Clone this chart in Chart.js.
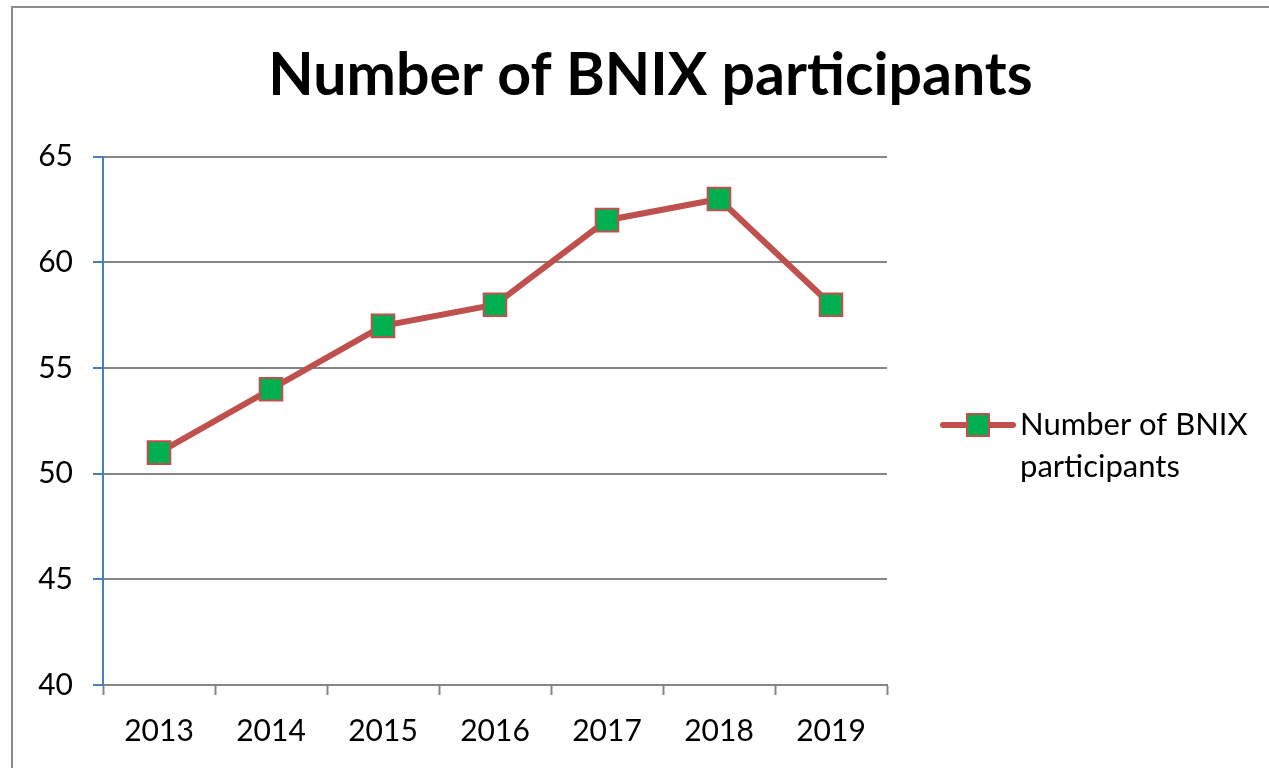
<!DOCTYPE html>
<html>
<head>
<meta charset="utf-8">
<script src="https://cdn.jsdelivr.net/npm/chart.js@4/dist/chart.umd.min.js"></script>
<style>
  html, body { margin: 0; padding: 0; background: #fff; overflow: hidden; }
  #wrap { width: 1269px; height: 768px; }
</style>
</head>
<body>
<div id="wrap"><canvas id="myChart" width="1269" height="768"></canvas></div>
<script>
var years = ["2013", "2014", "2015", "2016", "2017", "2018", "2019"];
var participants = [51, 54, 57, 58, 62, 63, 58];
var seriesName = "Number of BNIX participants";
var legendLines = ["Number of BNIX", "participants"];
var yMin = 40;
var yMax = 65;
var yStep = 5;

var lineRed = "#C0504D";
var markerGreen = "#00B050";
var gridGray = "#868686";
var axisBlue = "#4A7EBB";
var fontName = "Lato, 'Open Sans', sans-serif";

// frame round the whole chart, cut off at the right and bottom like the picture
var framePlugin = {
  id: "frame",
  beforeDraw: function (chart) {
    var c = chart.ctx;
    c.save();
    c.fillStyle = "#fff";
    c.fillRect(0, 0, chart.width, chart.height);
    c.strokeStyle = "#8c8c8c";
    c.lineWidth = 2;
    c.strokeRect(12, 7, 1300, 800);
    c.restore();
  }
};

// legend with line through the marker, text on two lines
var sideLegend = {
  id: "sideLegend",
  afterDraw: function (chart) {
    var c = chart.ctx;
    var y = 425;
    c.save();
    c.strokeStyle = lineRed;
    c.lineWidth = 6;
    c.lineCap = "round";
    c.beginPath();
    c.moveTo(943, y);
    c.lineTo(1013, y);
    c.stroke();
    c.fillStyle = markerGreen;
    c.lineWidth = 2;
    c.fillRect(967, y - 11, 22, 22);
    c.strokeRect(967, y - 11, 22, 22);
    c.fillStyle = "#000";
    c.font = "31px " + fontName;
    c.textBaseline = "middle";
    c.textAlign = "left";
    legendLines.forEach(function (t, i) {
      c.fillText(t, 1020, y + i * 42);
    });
    c.restore();
  }
};

var ctx = document.getElementById("myChart");
var myChart = new Chart(ctx, {
  type: "line",
  data: {
    labels: years,
    datasets: [
      {
        label: seriesName,
        data: participants,
        borderColor: lineRed,
        borderWidth: 6,
        tension: 0,
        pointStyle: "rect",
        pointRadius: 16,
        pointHoverRadius: 16,
        pointBackgroundColor: markerGreen,
        pointBorderColor: lineRed,
        pointBorderWidth: 2,
      },
    ],
  },
  options: {
    responsive: false,
    animation: false,
    layout: { padding: { left: 32, right: 0, top: 0, bottom: 0 } },
    plugins: {
      legend: { display: false },
      tooltip: { enabled: false },
      title: {
        display: true,
        text: seriesName,
        color: "#000",
        font: { family: fontName, size: 59, weight: "bold", lineHeight: 1.2 },
        padding: { top: 41, bottom: 45 },
      },
    },
    scales: {
      x: {
        offset: true,
        grid: {
          offset: true,
          drawOnChartArea: false,
          drawTicks: true,
          tickLength: 10,
          tickColor: gridGray,
          tickWidth: 2,
        },
        border: { display: true, color: gridGray, width: 2 },
        ticks: { color: "#000", padding: 18, font: { family: fontName, size: 30 } },
        afterFit: function (scale) { scale.height = 83; },
      },
      y: {
        min: yMin,
        max: yMax,
        ticks: {
          stepSize: yStep,
          color: "#000",
          padding: 20,
          font: { family: fontName, size: 30 },
        },
        grid: {
          color: gridGray,
          lineWidth: 2,
          drawTicks: true,
          tickLength: 10,
          tickColor: axisBlue,
          tickWidth: 2,
        },
        border: { display: true, color: axisBlue, width: 2 },
        afterFit: function (scale) { scale.width = 71; },
      },
      // empty axis that keeps the room on the right for the legend
      side: {
        position: "right",
        ticks: { display: false },
        grid: { display: false },
        border: { display: false },
        afterFit: function (scale) { scale.width = 382; },
      },
    },
  },
  plugins: [framePlugin, sideLegend],
});
</script>
</body>
</html>
